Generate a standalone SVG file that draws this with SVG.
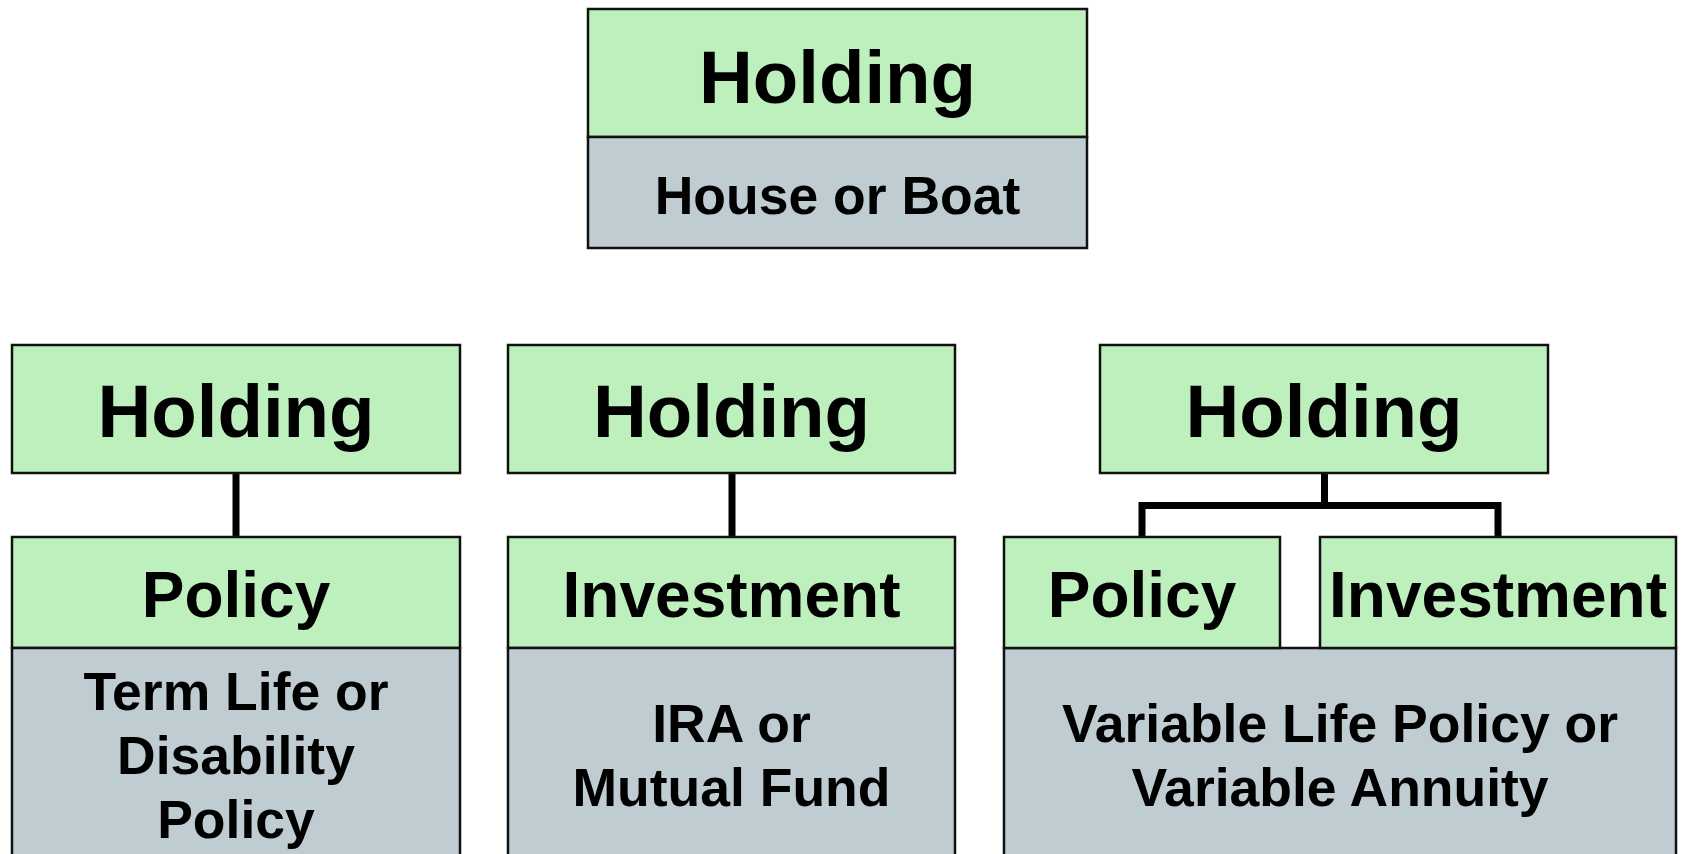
<svg xmlns="http://www.w3.org/2000/svg" width="1681" height="854" viewBox="0 0 1681 854">
<style>
.g{fill:#BEF0BE;stroke:#111;stroke-width:2.5}
.s{fill:#BFCDD3;stroke:#111;stroke-width:2.5}
text{font-family:"Liberation Sans",Arial,sans-serif;font-weight:bold;fill:#000;text-anchor:middle}
.h{font-size:74.5px}
.m{font-size:64px}
.t{font-size:53.5px}
.c{fill:none;stroke:#000;stroke-width:7}
</style>
<rect width="1681" height="854" fill="#fff"/>
<g id="connectors">
<line class="c" x1="236" y1="473" x2="236" y2="537"/>
<line class="c" x1="732" y1="473" x2="732" y2="537"/>
<path class="c" d="M1324.5,473 V505.5 M1142,537 V505.5 H1498 V537"/>
</g>
<g id="top-holding">
<rect class="g" x="588" y="9" width="499" height="128"/>
<rect class="s" x="588" y="137" width="499" height="111"/>
<text class="h" x="837.5" y="103">Holding</text>
<text class="t" x="837.5" y="214">House or Boat</text>
</g>
<g id="left-holding">
<rect class="g" x="12" y="345" width="448" height="128"/>
<text class="h" x="236" y="437">Holding</text>
</g>
<g id="left-policy">
<rect class="g" x="12" y="537" width="448" height="111"/>
<rect class="s" x="12" y="648" width="448" height="230"/>
<text class="m" x="236" y="617">Policy</text>
<text class="t" x="236" y="710">Term Life or</text>
<text class="t" x="236" y="774">Disability</text>
<text class="t" x="236" y="838">Policy</text>
</g>
<g id="mid-holding">
<rect class="g" x="508" y="345" width="447" height="128"/>
<text class="h" x="731.5" y="437">Holding</text>
</g>
<g id="mid-investment">
<rect class="g" x="508" y="537" width="447" height="111"/>
<rect class="s" x="508" y="648" width="447" height="230"/>
<text class="m" x="731.5" y="617">Investment</text>
<text class="t" x="731.5" y="742">IRA or</text>
<text class="t" x="731.5" y="806">Mutual Fund</text>
</g>
<g id="right-holding">
<rect class="g" x="1100" y="345" width="448" height="128"/>
<text class="h" x="1324" y="437">Holding</text>
</g>
<g id="right-variable">
<rect class="s" x="1004" y="648" width="672" height="230"/>
<text class="t" x="1340" y="742">Variable Life Policy or</text>
<text class="t" x="1340" y="806">Variable Annuity</text>
</g>
<g id="right-policy">
<rect class="g" x="1004" y="537" width="276" height="111"/>
<text class="m" x="1142" y="617">Policy</text>
</g>
<g id="right-investment">
<rect class="g" x="1320" y="537" width="356" height="111"/>
<text class="m" x="1498" y="617">Investment</text>
</g>
</svg>
